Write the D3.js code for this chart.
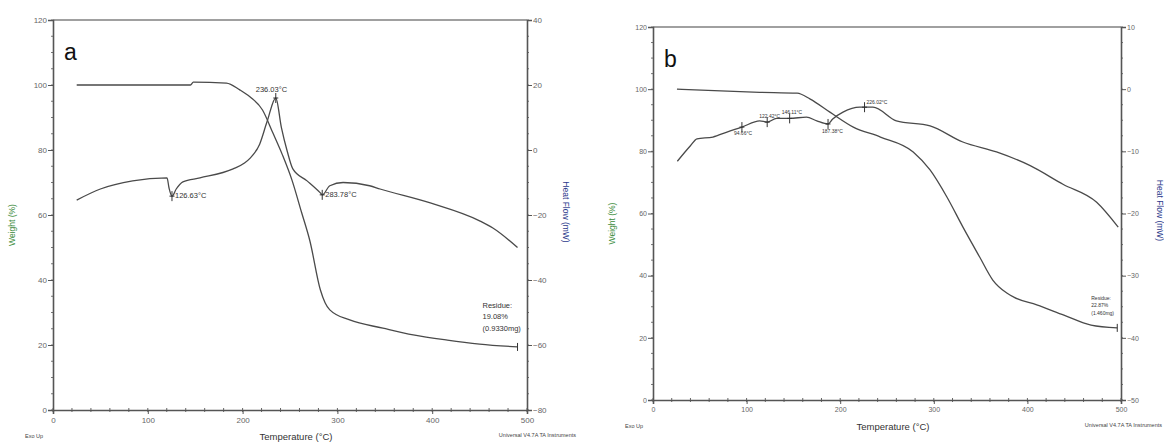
<!DOCTYPE html>
<html>
<head>
<meta charset="utf-8">
<script src="https://cdn.jsdelivr.net/npm/d3@7"></script>
<style>
  body { margin: 0; background: #fff; }
  text { font-family: "Liberation Sans", Arial, sans-serif; }
</style>
</head>
<body>
<div id="vis"></div>
<script>
// frame
const FRAME_WIDTH = 1164;
const FRAME_HEIGHT = 446;

// ticks
const X_TICKS = [0, 100, 200, 300, 400, 500];
const WEIGHT_TICKS = [0, 20, 40, 60, 80, 100, 120];
const HEAT_TICKS_A = [-80, -60, -40, -20, 0, 20, 40];
const HEAT_TICKS_B = [-50, -40, -30, -20, -10, 0, 10];

// panel a : [temperature, weight %]
const weightA = [[25, 100], [145, 100], [148, 100.9], [183, 100.6], [197, 98.5], [208, 96.3],
  [221, 92.3], [232, 85.2], [242, 78.5], [252, 70.8], [262, 61], [271, 52], [282, 37],
  [287, 33], [292, 30.8], [313, 27.7], [348, 25.2], [380, 23.1], [416, 21.5], [450, 20.3], [490, 19.4]];
// panel a : [temperature, heat flow mW]
const heatA = [[25, -15.4], [50, -12], [84, -9.5], [120.3, -8.6], [122.4, -11.7], [125.5, -14.2],
  [130, -12], [137, -9.8], [155, -8.6], [190, -5.8], [202, -4], [208, -2.5], [218, 1.8],
  [226, 8.9], [235, 16], [241, 6.8], [247, -0.3], [253, -5.8], [268, -9.5], [282, -13.2],
  [284, -13.8], [292, -11], [306, -10], [334, -11], [345, -12], [398, -16.3], [450, -21.8],
  [464, -24], [490, -30]];

// panel b
const weightB = [[25.6, 100], [114, 99], [154, 98.7], [168, 96.8], [189, 92.6], [214, 87.8],
  [243, 84.6], [278, 79.8], [296, 74], [314, 65.3], [331, 55.7], [349, 46], [363, 38.6],
  [378, 34.4], [386, 33], [410, 30.6], [439, 27.3], [468, 24.1], [496, 23.2]];
const heatB = [[26, -11.6], [40, -9.1], [47, -8], [64, -7.7], [79, -6.9], [95, -6.1],
  [114, -5.1], [122, -5.3], [132, -4.7], [146, -4.7], [164, -4.5], [175, -5.1], [187, -5.6],
  [192, -4.8], [203, -3.7], [221, -2.9], [235, -2.9], [260, -5.1], [296, -5.9], [331, -8.5],
  [367, -10.1], [403, -12.3], [438, -15.3], [474, -18.2], [497, -22.2]];

// annotations: [temperature, heat flow, label]
const peaksA = [[125.5, -14.2, "126.63°C"], [235, 16, "236.03°C"], [284, -13.8, "283.78°C"]];
const peaksB = [[95, -6.1, "94.66°C"], [122, -5.3, "122.42°C"], [146, -4.7, "146.11°C"],
  [187, -5.6, "187.38°C"], [226, -2.9, "226.02°C"]];
const residueA = ["Residue:", "19.08%", "(0.9330mg)"];
const residueB = ["Residue:", "22.87%", "(1.460mg)"];

const svg = d3.select("#vis").append("svg")
  .attr("width", FRAME_WIDTH)
  .attr("height", FRAME_HEIGHT);

function drawPanel(p) {
  const g = svg.append("g");
  const x = d3.scaleLinear().domain([0, 500]).range([p.left, p.right]);
  const yW = d3.scaleLinear().domain([0, 120]).range([p.bottom, p.top]);
  const yH = d3.scaleLinear().domain(p.heatDomain).range([p.bottom, p.top]);

  // top border
  g.append("line")
    .attr("x1", p.left).attr("x2", p.right)
    .attr("y1", p.top).attr("y2", p.top)
    .attr("stroke", "#a0a0a0").attr("stroke-width", 2.2);

  // minor ticks
  const minorX = d3.range(0, 501, 20);
  g.append("g").selectAll("line").data(minorX).enter().append("line")
    .attr("x1", d => x(d)).attr("x2", d => x(d))
    .attr("y1", p.bottom - 2).attr("y2", p.bottom + 2)
    .attr("stroke", "#666");
  g.append("g").selectAll("line").data(d3.range(0, 121, 5)).enter().append("line")
    .attr("x1", p.left - 2).attr("x2", p.left)
    .attr("y1", d => yW(d)).attr("y2", d => yW(d))
    .attr("stroke", "#777");
  const hs = (p.heatDomain[1] - p.heatDomain[0]) / 24;
  g.append("g").selectAll("line").data(d3.range(p.heatDomain[0], p.heatDomain[1] + 0.01, hs)).enter().append("line")
    .attr("x1", p.right).attr("x2", p.right + 2)
    .attr("y1", d => yH(d)).attr("y2", d => yH(d))
    .attr("stroke", "#777");

  // axes
  const xAxis = g.append("g")
    .attr("transform", "translate(0," + p.bottom + ")")
    .call(d3.axisBottom(x).tickValues(X_TICKS).tickSize(4).tickPadding(3));
  const yAxisL = g.append("g")
    .attr("transform", "translate(" + p.left + ",0)")
    .call(d3.axisLeft(yW).tickValues(WEIGHT_TICKS).tickSize(5).tickPadding(1));
  const yAxisR = g.append("g")
    .attr("transform", "translate(" + p.right + ",0)")
    .call(d3.axisRight(yH).tickValues(p.heatTicks).tickSize(5).tickPadding(1));
  [xAxis, yAxisL, yAxisR].forEach(a => {
    a.select(".domain").attr("stroke", "#555").attr("stroke-width", 1.6);
    a.selectAll(".tick line").attr("stroke", "#555");
    a.selectAll(".tick text").attr("fill", "#666")
      .attr("font-size", p.tickFont).attr("font-family", "Liberation Sans, Arial, sans-serif");
  });

  // curves
  const line = yScale => d3.line()
    .x(d => x(d[0])).y(d => yScale(d[1]))
    .curve(d3.curveMonotoneX);
  g.append("path").datum(p.weight)
    .attr("d", line(yW))
    .attr("fill", "none").attr("stroke", "#4a4a4a").attr("stroke-width", 1.3);
  g.append("path").datum(p.heat)
    .attr("d", line(yH))
    .attr("fill", "none").attr("stroke", "#4a4a4a").attr("stroke-width", 1.3);

  // peak markers and labels
  p.peaks.forEach((d, i) => {
    const px = x(d[0]), py = yH(d[1]);
    g.append("line").attr("x1", px).attr("x2", px).attr("y1", py - 5).attr("y2", py + 5)
      .attr("stroke", "#333");
    g.append("line").attr("x1", px - 2.5).attr("x2", px + 2.5).attr("y1", py).attr("y2", py)
      .attr("stroke", "#333");
    const off = p.peakOffsets[i];
    g.append("text")
      .attr("x", px + off[0]).attr("y", py + off[1])
      .attr("font-size", p.annoFont).attr("fill", "#333")
      .text(d[2]);
  });

  // residue marker
  const last = p.weight[p.weight.length - 1];
  const rx = x(last[0]), ry = yW(last[1]);
  g.append("line").attr("x1", rx).attr("x2", rx).attr("y1", ry - 4).attr("y2", ry + 4)
    .attr("stroke", "#333");
  g.selectAll(".res").data(p.residue).enter().append("text")
    .attr("x", rx - p.residueDx).attr("y", (d, i) => ry - p.residueDy + i * p.residueGap)
    .attr("font-size", p.annoFont).attr("fill", "#333")
    .text(d => d);

  // titles
  g.append("text")
    .attr("transform", "translate(" + (p.left - 38) + "," + ((p.top + p.bottom) / 2 + 10) + ") rotate(-90)")
    .attr("text-anchor", "middle").attr("font-size", 8.5).attr("fill", "#3c8c3c")
    .text("Weight (%)");
  g.append("text")
    .attr("transform", "translate(" + (p.right + 36) + "," + ((p.top + p.bottom) / 2 - 3) + ") rotate(90)")
    .attr("text-anchor", "middle").attr("font-size", 8.5).attr("fill", "#2b3a8c")
    .text("Heat Flow (mW)");
  g.append("text")
    .attr("x", (p.left + p.right) / 2 + 6).attr("y", p.bottom + 30)
    .attr("text-anchor", "middle").attr("font-size", 9.5).attr("fill", "#333")
    .text("Temperature (°C)");
  g.append("text")
    .attr("x", p.left - 28).attr("y", p.bottom + 28)
    .attr("font-size", 5.5).attr("fill", "#444")
    .text("Exo Up");
  g.append("text")
    .attr("x", p.creditX).attr("y", p.bottom + 27)
    .attr("text-anchor", "end").attr("font-size", 5.5).attr("fill", "#444")
    .text("Universal V4.7A TA Instruments");

  // panel letter
  g.append("text")
    .attr("x", p.left + 11).attr("y", p.top + 40)
    .attr("font-size", 23).attr("fill", "#111")
    .attr("font-family", p.letterFont)
    .text(p.letter);
}

drawPanel({
  left: 53, right: 527, top: 20, bottom: 410,
  heatDomain: [-80, 40], heatTicks: HEAT_TICKS_A,
  weight: weightA, heat: heatA, peaks: peaksA,
  peakOffsets: [[3, 2], [-20, -6], [3, 2]],
  residue: residueA, residueDx: 35, residueDy: 39, residueGap: 11.5,
  creditX: 576,
  tickFont: 8, annoFont: 7.5, letter: "a", letterFont: "Liberation Sans, Arial, sans-serif"
});

drawPanel({
  left: 653, right: 1121, top: 27, bottom: 400,
  heatDomain: [-50, 10], heatTicks: HEAT_TICKS_B,
  weight: weightB, heat: heatB, peaks: peaksB,
  peakOffsets: [[-8, 8], [-8, -4], [-8, -4], [-6, 9], [2, -3]],
  residue: residueB, residueDx: 26, residueDy: 28, residueGap: 7.5,
  creditX: 1162,
  tickFont: 7, annoFont: 5, letter: "b", letterFont: "Liberation Serif, Times New Roman, serif"
});
</script>
</body>
</html>
